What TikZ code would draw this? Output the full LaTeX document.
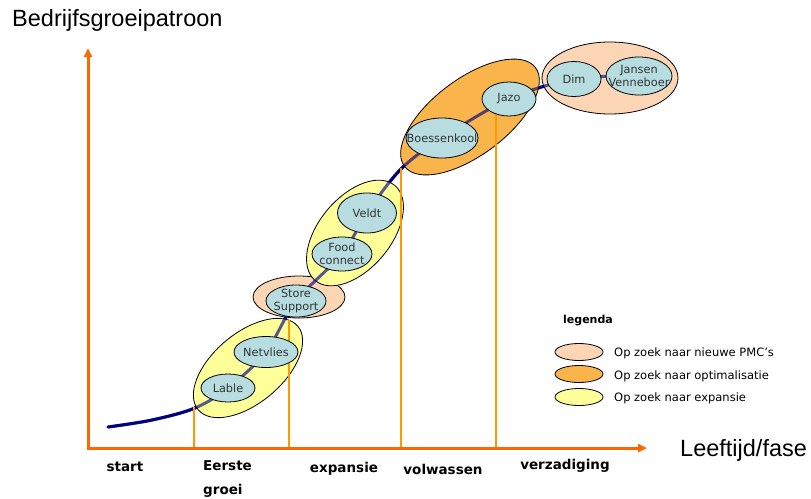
\documentclass[tikz,border=0pt]{standalone}
\usepackage{fontspec}
\setmainfont{DejaVu Sans}
\newfontfamily\arialf{Liberation Sans}
\usetikzlibrary{shapes.geometric,arrows.meta}
\definecolor{axisorange}{HTML}{FF6600}
\definecolor{phaseorange}{HTML}{FF9900}
\definecolor{curvenavy}{HTML}{000080}
\definecolor{grpyellow}{HTML}{FFFF99}
\definecolor{grppeach}{HTML}{FCD5B5}
\definecolor{grporange}{HTML}{F9B44C}
\definecolor{nodefill}{HTML}{B8DDE0}
\definecolor{textgrey}{HTML}{333333}
\tikzset{
  axisline/.style={draw=axisorange, line width=3pt, -{Triangle[length=9pt,width=8pt]}},
  phaseline/.style={draw=phaseorange, line width=2.6pt},
  growth/.style={draw=curvenavy, line width=3pt, line cap=round},
  group/.style={draw=black, line width=0.8pt},
  firm/.style={ellipse, draw=black, line width=0.8pt, fill=nodefill, inner sep=0pt},
  firmtext/.style={font=\fontsize{11.3}{13}\selectfont, text=textgrey, align=center, inner sep=0pt},
  phasetext/.style={font=\bfseries\fontsize{13.5}{15}\selectfont, text=black, inner sep=0pt},
  bigtitle/.style={font=\arialf\fontsize{23.5}{26}\selectfont, text=black, inner sep=0pt, anchor=west},
  legtext/.style={font=\fontsize{11.5}{13}\selectfont, text=black, inner sep=0pt, anchor=west},
  legell/.style={ellipse, draw=black, line width=0.8pt, inner sep=0pt, minimum width=48pt, minimum height=17pt}
}
\begin{document}
\begin{tikzpicture}[x=1pt,y=-1pt]
\useasboundingbox (0,0) rectangle (811,498);
% coordinates
\coordinate (O) at (88,448);
\coordinate (ytop) at (88,48);
\coordinate (xend) at (647,448);
\coordinate (c0) at (108,427);
\coordinate (c1) at (152,420);
\coordinate (c2) at (195,408);
\coordinate (cLable) at (228,388);
\coordinate (cNet) at (266,352);
\coordinate (cStore) at (296,301);
\coordinate (cFood) at (342,254);
\coordinate (cVeldt) at (367,213);
\coordinate (c3) at (401,169);
\coordinate (cBoes) at (442,138);
\coordinate (cJazo) at (509,99);
\coordinate (cDim) at (574,79);
\coordinate (cJans) at (639,76);
% growth curve
\draw[growth] plot[smooth,tension=0.55] coordinates {(c0) (c1) (c2) (cLable) (cNet) (cStore) (cFood) (cVeldt) (c3) (cBoes) (cJazo) (cDim) (cJans)};
% group ellipses
\draw[group, fill=grpyellow, rotate around={40:(248,368)}] (248,368) ellipse [x radius=65, y radius=35];
\draw[group, fill=grppeach] (299,297) ellipse [x radius=46, y radius=21];
\draw[group, fill=grpyellow, rotate around={50:(355,233)}] (355,233) ellipse [x radius=62, y radius=36];
\draw[group, fill=grporange, rotate around={37:(470,117)}] (470,117) ellipse [x radius=82, y radius=38];
\draw[group, fill=grppeach] (610,78) ellipse [x radius=68, y radius=36];
% curve seen through the groups
\draw[growth, draw opacity=0.65] plot[smooth,tension=0.55] coordinates {(c0) (c1) (c2) (cLable) (cNet) (cStore) (cFood) (cVeldt) (c3) (cBoes) (cJazo) (cDim) (cJans)};
% phase lines
\coordinate (p1b) at (194,448); \coordinate (p1t) at (194,407);
\coordinate (p2b) at (289,448); \coordinate (p2t) at (289,320);
\coordinate (p3b) at (401,448); \coordinate (p3t) at (401,168);
\coordinate (p4b) at (496,448); \coordinate (p4t) at (496,110);
\draw[phaseline] (p1b) -- (p1t);
\draw[phaseline] (p2b) -- (p2t);
\draw[phaseline] (p3b) -- (p3t);
\draw[phaseline] (p4b) -- (p4t);
% axes
\draw[axisline] (O) -- (ytop);
\draw[axisline] ([xshift=-1.5pt]O) -- (xend);
% firms
\node[firm, minimum width=54pt, minimum height=28pt, label={[firmtext]center:Lable}] (lable) at (cLable) {};
\node[firm, minimum width=64pt, minimum height=31pt, label={[firmtext]center:Netvlies}] (netvlies) at (cNet) {};
\node[firm, minimum width=60pt, minimum height=32pt, label={[firmtext]center:{Store\\Support}}] (store) at (cStore) {};
\node[firm, minimum width=60pt, minimum height=34pt, label={[firmtext]center:{Food\\connect}}] (food) at (cFood) {};
\node[firm, minimum width=59pt, minimum height=40pt, label={[firmtext]center:Veldt}] (veldt) at (cVeldt) {};
\node[firm, minimum width=72pt, minimum height=40pt, label={[firmtext]center:Boessenkool}] (boes) at (cBoes) {};
\node[firm, minimum width=54pt, minimum height=34pt, label={[firmtext]center:Jazo}] (jazo) at (cJazo) {};
\node[firm, minimum width=54pt, minimum height=35pt, label={[firmtext]center:Dim}] (dim) at (cDim) {};
\node[firm, minimum width=66pt, minimum height=38pt, label={[firmtext]center:{Jansen\\Venneboer}}] (jansen) at (cJans) {};
% titles
\node[bigtitle] (ytitle) at (12,20) {Bedrijfsgroeipatroon};
\node[bigtitle] (xtitle) at (680,450) {Leeftijd/fase};
% phase labels
\node[phasetext] (lstart) at (125,467) {start};
\node[phasetext, anchor=west] (leerste) at (203,466) {Eerste};
\node[phasetext, anchor=west] (lgroei) at (203,491) {groei};
\node[phasetext] (lexp) at (344,469) {expansie};
\node[phasetext] (lvol) at (443,469) {volwassen};
\node[phasetext] (lverz) at (565,466) {verzadiging};
% legend
\node[font=\bfseries\fontsize{11}{13}\selectfont, inner sep=0pt] (legtitle) at (588,321) {legenda};
\node[legell, fill=grppeach] (lg1) at (579,352) {};
\node[legell, fill=grporange] (lg2) at (579,374) {};
\node[legell, fill=grpyellow] (lg3) at (579,397) {};
\node[legtext] (lt1) at (614,353) {Op zoek naar nieuwe PMC’s};
\node[legtext] (lt2) at (614,376) {Op zoek naar optimalisatie};
\node[legtext] (lt3) at (614,398) {Op zoek naar expansie};
\end{tikzpicture}
\end{document}
